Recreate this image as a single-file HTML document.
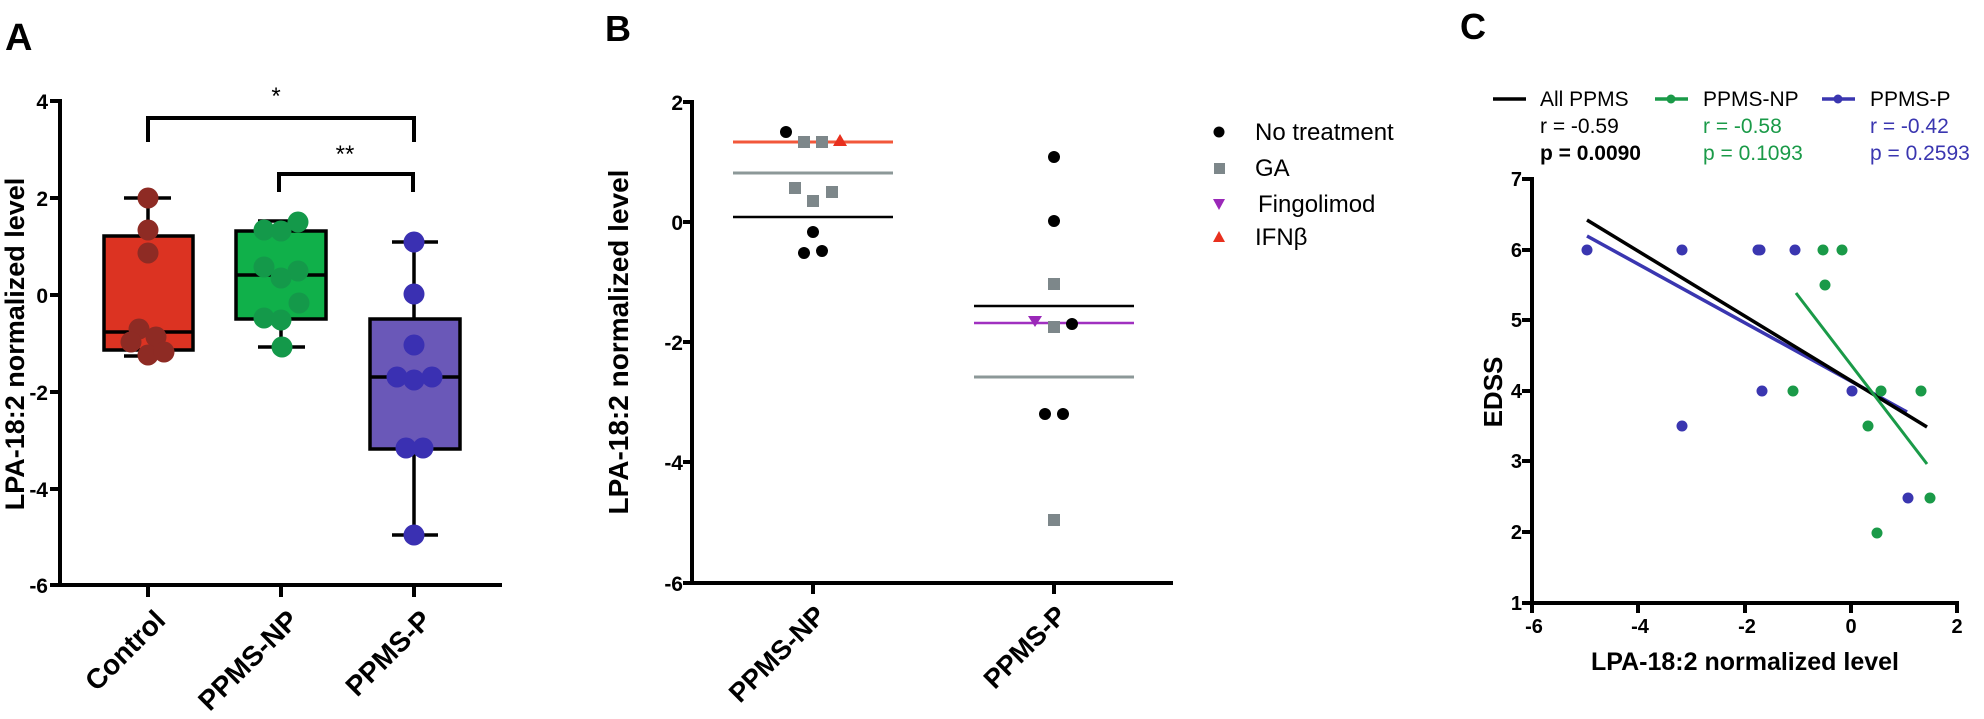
<!DOCTYPE html>
<html><head><meta charset="utf-8"><style>
html,body{margin:0;padding:0;background:#fff;}
svg{display:block;font-family:"Liberation Sans",Arial,sans-serif;}
.b{font-weight:bold;}
</style></head><body>
<svg width="1984" height="719" viewBox="0 0 1984 719" xmlns="http://www.w3.org/2000/svg">
<rect width="1984" height="719" fill="#fff"/>
<!-- Panel letters -->
<text x="5" y="50" class="b" font-size="38">A</text>
<text x="605" y="41" class="b" font-size="36">B</text>
<text x="1460" y="39" class="b" font-size="36">C</text>

<!-- ========== Panel A ========== -->
<g stroke="#000" stroke-width="4" fill="none">
<line x1="60" y1="99" x2="60" y2="587"/>
<line x1="58" y1="585" x2="502" y2="585"/>
<line x1="50" y1="101" x2="60" y2="101"/>
<line x1="50" y1="198" x2="60" y2="198"/>
<line x1="50" y1="295" x2="60" y2="295"/>
<line x1="50" y1="392" x2="60" y2="392"/>
<line x1="50" y1="489" x2="60" y2="489"/>
<line x1="50" y1="585" x2="60" y2="585"/>
<line x1="148" y1="585" x2="148" y2="597"/>
<line x1="281" y1="585" x2="281" y2="597"/>
<line x1="414" y1="585" x2="414" y2="597"/>
<polyline points="148,142 148,118 414,118 414,142"/>
<polyline points="279,192 279,174 413,174 413,192"/>
</g>
<g class="b" font-size="21" text-anchor="end">
<text x="48" y="109">4</text>
<text x="48" y="206">2</text>
<text x="48" y="303">0</text>
<text x="48" y="400">-2</text>
<text x="48" y="497">-4</text>
<text x="48" y="593">-6</text>
</g>
<text x="276" y="104" font-size="24" text-anchor="middle">*</text>
<text x="345" y="162" font-size="24" text-anchor="middle">**</text>
<text transform="translate(24,344) rotate(-90)" class="b" font-size="27" text-anchor="middle">LPA-18:2 normalized level</text>
<g class="b" font-size="28" text-anchor="end">
<text transform="translate(167,622) rotate(-45)">Control</text>
<text transform="translate(300,622) rotate(-45)">PPMS-NP</text>
<text transform="translate(433,622) rotate(-45)">PPMS-P</text>
</g>
<g stroke="#000" stroke-width="3.5">
<line x1="148" y1="198" x2="148" y2="236"/><line x1="124" y1="198" x2="171" y2="198"/>
<line x1="148" y1="350" x2="148" y2="356"/><line x1="124" y1="356" x2="171" y2="356"/>
<rect x="104" y="236" width="89" height="114" fill="#dc3322"/>
<line x1="104" y1="332" x2="193" y2="332"/>
<line x1="281" y1="221" x2="281" y2="231"/><line x1="258" y1="221" x2="305" y2="221"/>
<line x1="281" y1="319" x2="281" y2="347"/><line x1="258" y1="347" x2="305" y2="347"/>
<rect x="236" y="231" width="90" height="88" fill="#10b04a"/>
<line x1="236" y1="275" x2="326" y2="275"/>
<line x1="414" y1="242" x2="414" y2="319"/><line x1="392" y1="242" x2="438" y2="242"/>
<line x1="414" y1="449" x2="414" y2="535"/><line x1="392" y1="535" x2="438" y2="535"/>
<rect x="370" y="319" width="90" height="130" fill="#6a58b8"/>
<line x1="370" y1="377" x2="460" y2="377"/>
</g>
<g fill="#8e2b24">
<circle cx="148" cy="198" r="10.5"/><circle cx="148" cy="230" r="10.5"/><circle cx="148" cy="253" r="10.5"/>
<circle cx="139" cy="329" r="10.5"/><circle cx="131" cy="342" r="10.5"/><circle cx="156" cy="337" r="10.5"/>
<circle cx="148" cy="355" r="10.5"/><circle cx="164" cy="352" r="10.5"/>
</g>
<g fill="#14994a">
<circle cx="264" cy="230" r="10.5"/><circle cx="281" cy="231" r="10.5"/><circle cx="298" cy="222" r="10.5"/>
<circle cx="264" cy="267" r="10.5"/><circle cx="298" cy="271" r="10.5"/><circle cx="281" cy="278" r="10.5"/>
<circle cx="299" cy="303" r="10.5"/><circle cx="264" cy="318" r="10.5"/><circle cx="281" cy="320" r="10.5"/>
<circle cx="282" cy="347" r="10.5"/>
</g>
<g fill="#3a30b2">
<circle cx="414" cy="242" r="10.5"/><circle cx="414" cy="294" r="10.5"/><circle cx="414" cy="345" r="10.5"/>
<circle cx="397" cy="377" r="10.5"/><circle cx="414" cy="380" r="10.5"/><circle cx="432" cy="377" r="10.5"/>
<circle cx="406" cy="448" r="10.5"/><circle cx="423" cy="448" r="10.5"/><circle cx="414" cy="535" r="10.5"/>
</g>

<!-- ========== Panel B ========== -->
<g stroke="#000" stroke-width="4" fill="none">
<line x1="692" y1="100" x2="692" y2="585"/>
<line x1="690" y1="583" x2="1173" y2="583"/>
<line x1="683" y1="102" x2="692" y2="102"/>
<line x1="683" y1="222" x2="692" y2="222"/>
<line x1="683" y1="342" x2="692" y2="342"/>
<line x1="683" y1="462" x2="692" y2="462"/>
<line x1="683" y1="583" x2="692" y2="583"/>
<line x1="813" y1="583" x2="813" y2="594"/>
<line x1="1054" y1="583" x2="1054" y2="594"/>
</g>
<g class="b" font-size="21" text-anchor="end">
<text x="683" y="110">2</text>
<text x="683" y="230">0</text>
<text x="683" y="350">-2</text>
<text x="683" y="470">-4</text>
<text x="683" y="591">-6</text>
</g>
<text transform="translate(628,342) rotate(-90)" class="b" font-size="28" text-anchor="middle">LPA-18:2 normalized level</text>
<g class="b" font-size="27" text-anchor="end">
<text transform="translate(827,617) rotate(-45)">PPMS-NP</text>
<text transform="translate(1068,617) rotate(-45)">PPMS-P</text>
</g>
<line x1="733" y1="142" x2="893" y2="142" stroke="#f2573a" stroke-width="3"/>
<line x1="733" y1="173" x2="893" y2="173" stroke="#8c9898" stroke-width="3"/>
<line x1="733" y1="217" x2="893" y2="217" stroke="#000" stroke-width="2.5"/>
<line x1="974" y1="306" x2="1134" y2="306" stroke="#000" stroke-width="2.5"/>
<line x1="974" y1="323" x2="1134" y2="323" stroke="#a030c0" stroke-width="2.5"/>
<line x1="974" y1="377" x2="1134" y2="377" stroke="#8c9898" stroke-width="3"/>
<g fill="#7d878a">
<rect x="798" y="136" width="12" height="12"/><rect x="816" y="136" width="12" height="12"/>
<rect x="789" y="182" width="12" height="12"/><rect x="807" y="195" width="12" height="12"/><rect x="826" y="186" width="12" height="12"/>
<rect x="1048" y="278" width="12" height="12"/><rect x="1048" y="321" width="12" height="12"/><rect x="1048" y="514" width="12" height="12"/>
</g>
<polygon points="840,134 847,146 833,146" fill="#e8301e"/>
<polygon points="1035,327 1042,316 1028,316" fill="#9a28b8"/>
<g fill="#000">
<circle cx="786" cy="132" r="6"/><circle cx="813" cy="232" r="6"/><circle cx="804" cy="253" r="6"/><circle cx="822" cy="251" r="6"/>
<circle cx="1054" cy="157" r="6"/><circle cx="1054" cy="221" r="6"/><circle cx="1072" cy="324" r="6"/>
<circle cx="1045" cy="414" r="6"/><circle cx="1063" cy="414" r="6"/>
</g>
<circle cx="1219" cy="132" r="5.5" fill="#000"/>
<rect x="1214" y="163" width="11" height="11" fill="#7d878a"/>
<polygon points="1219,210 1225,199 1213,199" fill="#9a28b8"/>
<polygon points="1219,231 1225,242 1213,242" fill="#e8301e"/>
<g font-size="24">
<text x="1255" y="140">No treatment</text>
<text x="1255" y="176">GA</text>
<text x="1258" y="212">Fingolimod</text>
<text x="1255" y="245">IFNβ</text>
</g>

<!-- ========== Panel C ========== -->
<g stroke="#000" stroke-width="4" fill="none">
<line x1="1532" y1="177" x2="1532" y2="605"/>
<line x1="1530" y1="603" x2="1959" y2="603"/>
<line x1="1522" y1="179" x2="1532" y2="179"/>
<line x1="1522" y1="250" x2="1532" y2="250"/>
<line x1="1522" y1="320" x2="1532" y2="320"/>
<line x1="1522" y1="391" x2="1532" y2="391"/>
<line x1="1522" y1="461" x2="1532" y2="461"/>
<line x1="1522" y1="532" x2="1532" y2="532"/>
<line x1="1522" y1="603" x2="1532" y2="603"/>
<line x1="1532" y1="603" x2="1532" y2="613"/>
<line x1="1638" y1="603" x2="1638" y2="613"/>
<line x1="1745" y1="603" x2="1745" y2="613"/>
<line x1="1851" y1="603" x2="1851" y2="613"/>
<line x1="1957" y1="603" x2="1957" y2="613"/>
</g>
<g class="b" font-size="20" text-anchor="end">
<text x="1522" y="186">7</text>
<text x="1522" y="257">6</text>
<text x="1522" y="327">5</text>
<text x="1522" y="398">4</text>
<text x="1522" y="468">3</text>
<text x="1522" y="539">2</text>
<text x="1522" y="610">1</text>
</g>
<g class="b" font-size="20" text-anchor="middle">
<text x="1534" y="633">-6</text>
<text x="1640" y="633">-4</text>
<text x="1747" y="633">-2</text>
<text x="1851" y="633">0</text>
<text x="1957" y="633">2</text>
</g>
<text x="1745" y="670" class="b" font-size="25" text-anchor="middle">LPA-18:2 normalized level</text>
<text transform="translate(1502,392) rotate(-90)" class="b" font-size="26" text-anchor="middle">EDSS</text>
<line x1="1587" y1="236" x2="1907" y2="412" stroke="#3a36b0" stroke-width="3.5"/>
<line x1="1587" y1="220" x2="1927" y2="427" stroke="#000" stroke-width="3.5"/>
<line x1="1796" y1="293" x2="1927" y2="464" stroke="#1a9a48" stroke-width="3"/>
<g fill="#3a36b0">
<circle cx="1587" cy="250" r="5.5"/><circle cx="1682" cy="250" r="5.5"/><circle cx="1758" cy="250" r="5.5"/><circle cx="1760" cy="250" r="5.5"/><circle cx="1795" cy="250" r="5.5"/>
<circle cx="1762" cy="391" r="5.5"/><circle cx="1852" cy="391" r="5.5"/><circle cx="1682" cy="426" r="5.5"/><circle cx="1908" cy="498" r="5.5"/>
</g>
<g fill="#1a9a48">
<circle cx="1823" cy="250" r="5.5"/><circle cx="1842" cy="250" r="5.5"/><circle cx="1825" cy="285" r="5.5"/>
<circle cx="1793" cy="391" r="5.5"/><circle cx="1881" cy="391" r="5.5"/><circle cx="1921" cy="391" r="5.5"/>
<circle cx="1868" cy="426" r="5.5"/><circle cx="1930" cy="498" r="5.5"/><circle cx="1877" cy="533" r="5.5"/>
</g>
<line x1="1493" y1="99" x2="1526" y2="99" stroke="#000" stroke-width="3.5"/>
<line x1="1655" y1="99" x2="1688" y2="99" stroke="#1a9a48" stroke-width="3.5"/><circle cx="1671" cy="99" r="4.5" fill="#1a9a48"/>
<line x1="1822" y1="99" x2="1855" y2="99" stroke="#3a36b0" stroke-width="3.5"/><circle cx="1838" cy="99" r="4.5" fill="#3a36b0"/>
<g font-size="21">
<text x="1540" y="106">All PPMS</text>
<text x="1540" y="133">r = -0.59</text>
<text x="1540" y="160" class="b">p = 0.0090</text>
<text x="1703" y="106">PPMS-NP</text>
<text x="1703" y="133" fill="#1a9a48">r = -0.58</text>
<text x="1703" y="160" fill="#1a9a48">p = 0.1093</text>
<text x="1870" y="106">PPMS-P</text>
<text x="1870" y="133" fill="#3a36b0">r = -0.42</text>
<text x="1870" y="160" fill="#3a36b0">p = 0.2593</text>
</g>
</svg>
</body></html>
